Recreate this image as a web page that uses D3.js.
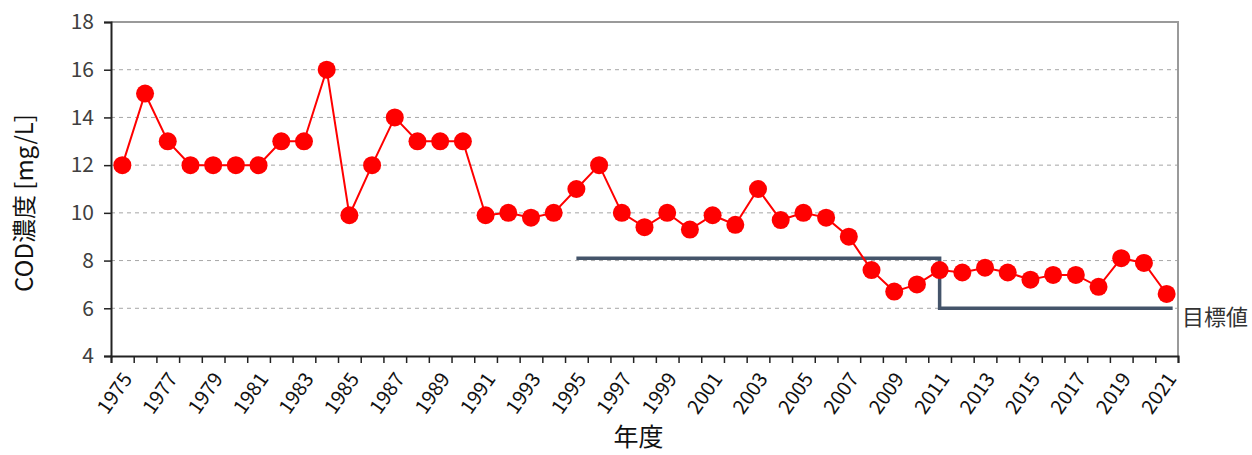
<!DOCTYPE html>
<html>
<head>
<meta charset="utf-8">
<script src="https://cdn.jsdelivr.net/npm/d3@7"></script>
<style>
  body { margin: 0; background: #fff; }
  svg text { font-family: "Noto Sans CJK JP", "Noto Sans", sans-serif; }
</style>
</head>
<body>
<svg></svg>
<script>
// 年度
const years = d3.range(1975, 2022);
// COD濃度 [mg/L]
const cod = [12, 15, 13, 12, 12, 12, 12, 13, 13, 16,
             9.9, 12, 14, 13, 13, 13, 9.9, 10, 9.8, 10,
             11, 12, 10, 9.4, 10, 9.3, 9.9, 9.5, 11, 9.7,
             10, 9.8, 9.0, 7.6, 6.7, 7.0, 7.6, 7.5, 7.7, 7.5,
             7.2, 7.4, 7.4, 6.9, 8.1, 7.9, 6.6];
// 目標値 (step)
const targetYears = [1995, 2011, 2011, 2021];
const targetValues = [8.1, 8.1, 6, 6];
const yTicks = [4, 6, 8, 10, 12, 14, 16, 18];

document.addEventListener("DOMContentLoaded", function() {
    const W = 1252, H = 455;
    const margin = {left: 111, right: 74, top: 22, bottom: 99};
    const svg = d3.select("svg").attr("width", W).attr("height", H);

    const x = d3.scaleBand().domain(years)
        .range([margin.left, W - margin.right]).padding(0);
    const xIdx = d3.scaleLinear().domain([0, years.length])
        .range([margin.left, W - margin.right]);
    const y = d3.scaleLinear().domain([4, 18])
        .range([H - margin.bottom, margin.top]);
    const cx = yr => x(yr) + x.bandwidth() / 2;

    // gridlines
    svg.append("g")
        .selectAll("line")
        .data(yTicks.filter(d => d > 4 && d < 18))
        .join("line")
        .attr("x1", margin.left).attr("x2", W - margin.right)
        .attr("y1", d => y(d)).attr("y2", d => y(d))
        .attr("stroke", "#a6a6a6")
        .attr("stroke-width", 1)
        .attr("stroke-dasharray", "4,4");

    // top/right frame
    svg.append("path")
        .attr("d", `M${margin.left},${y(18)}H${W - margin.right}V${y(4)}`)
        .attr("fill", "none")
        .attr("stroke", "#9a9a9a")
        .attr("stroke-width", 2);

    // y axis
    const yAxis = svg.append("g")
        .attr("transform", `translate(${margin.left},0)`)
        .call(d3.axisLeft(y).tickValues(yTicks).tickSize(7).tickPadding(10));
    yAxis.select(".domain").attr("stroke", "#222").attr("stroke-width", 2);
    yAxis.selectAll(".tick line").attr("stroke", "#222").attr("stroke-width", 1.5);
    yAxis.selectAll("text")
        .attr("font-size", 21)
        .attr("fill", "#404040")
        .style("font-family", "\"Noto Sans CJK JP\", sans-serif");

    // x axis boundary ticks
    const xTickAxis = svg.append("g")
        .attr("transform", `translate(0,${y(4)})`)
        .call(d3.axisBottom(xIdx).tickValues(d3.range(0, years.length + 1))
            .tickSize(7).tickFormat(""));
    xTickAxis.select(".domain").attr("stroke", "#222").attr("stroke-width", 2);
    xTickAxis.selectAll(".tick line").attr("stroke", "#222").attr("stroke-width", 1.5);

    // x labels
    const xLab = svg.append("g")
        .attr("transform", `translate(0,${y(4)})`)
        .call(d3.axisBottom(x).tickValues(years.filter(d => d % 2 === 1)).tickSize(0));
    xLab.select(".domain").remove();
    xLab.selectAll("text")
        .attr("font-size", 20)
        .attr("fill", "#111")
        .attr("text-anchor", "end")
        .attr("x", 0)
        .attr("y", 0)
        .attr("dy", "0.35em")
        .attr("transform", "translate(5,19) rotate(-55)")
        .style("font-family", "\"Noto Sans CJK JP\", sans-serif");

    // target step line
    const tgt = targetYears.map((yr, i) => [yr === 2021 ? cx(yr) + 6 : cx(yr), y(targetValues[i])]);
    svg.append("path")
        .attr("d", d3.line()(tgt))
        .attr("fill", "none")
        .attr("stroke", "#44546a")
        .attr("stroke-width", 3.5);

    svg.append("text")
        .attr("x", W - margin.right + 4)
        .attr("y", y(6) + 9)
        .attr("dy", "0.35em")
        .attr("font-size", 22)
        .attr("fill", "#333")
        .text("目標値");

    // COD series
    const pts = years.map((yr, i) => [cx(yr), y(cod[i])]);
    svg.append("path")
        .attr("d", d3.line()(pts))
        .attr("fill", "none")
        .attr("stroke", "#ff0000")
        .attr("stroke-width", 2);
    svg.append("g")
        .selectAll("circle")
        .data(pts)
        .join("circle")
        .attr("cx", d => d[0]).attr("cy", d => d[1])
        .attr("r", 9)
        .attr("fill", "#ff0000");

    // axis titles
    svg.append("text")
        .attr("transform", `translate(33,${(y(4) + y(18)) / 2 + 14}) rotate(-90)`)
        .attr("text-anchor", "middle")
        .attr("font-size", 24)
        .attr("fill", "#111")
        .text("COD濃度 [mg/L]");

    svg.append("text")
        .attr("x", (margin.left + W - margin.right) / 2 - 6)
        .attr("y", 446)
        .attr("text-anchor", "middle")
        .attr("font-size", 25)
        .attr("fill", "#111")
        .text("年度");
});
</script>
</body>
</html>
